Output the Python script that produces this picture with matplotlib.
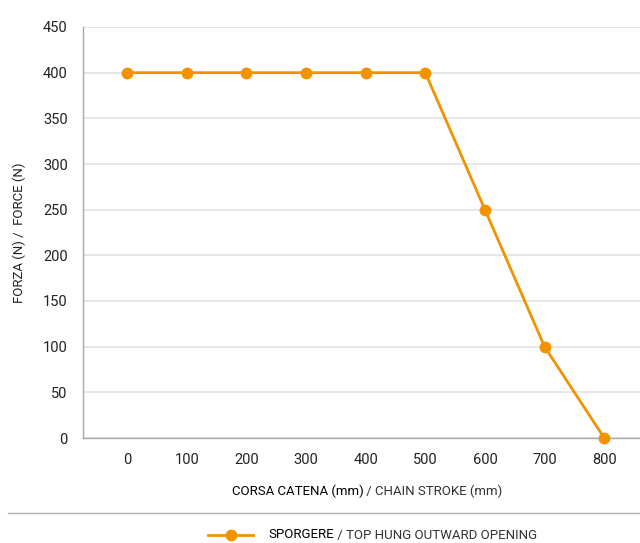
import matplotlib
matplotlib.use('Agg')
import matplotlib.pyplot as plt
from matplotlib.lines import Line2D

plt.rcParams['font.family'] = ['Liberation Sans Narrow', 'Roboto', 'DejaVu Sans']

# data
stroke_mm = [0, 100, 200, 300, 400, 500, 600, 700, 800]
force_n = [400, 400, 400, 400, 400, 400, 250, 100, 0]
y_ticks = [0, 50, 100, 150, 200, 250, 300, 350, 400, 450]

orange = '#F39200'
grid_c = '#E3E3E3'
spine_c = '#A8A8A8'

fig = plt.figure(figsize=(6.4, 5.43), dpi=100)
ax = fig.add_axes([83 / 640, 1 - 438 / 543, 1 - 83 / 640, (438 - 27) / 543])

ax.plot(stroke_mm, force_n, color=orange, lw=2, marker='o', ms=7.5,
        clip_on=False, zorder=3)

ax.set_xlim(-74, 860)
ax.set_ylim(0, 450)
ax.set_xticks(stroke_mm)
ax.set_yticks(y_ticks)
ax.yaxis.grid(True, color=grid_c, lw=1.2)
ax.set_axisbelow(True)
for s in ['top', 'right']:
    ax.spines[s].set_visible(False)
for s in ['left', 'bottom']:
    ax.spines[s].set_color(spine_c)
    ax.spines[s].set_linewidth(1)
ax.tick_params(length=0, labelsize=10.5, colors='#222222')
ax.tick_params(axis='x', pad=11)
ax.tick_params(axis='y', pad=11)

ax.set_ylabel('FORZA (N) /  FORCE (N)', fontsize=9.5, color='#222222', labelpad=12)

# x label with darker first part
fig.canvas.draw()
r = fig.canvas.get_renderer()
xy = 1 - 491 / 543
t1 = fig.text(0, xy, 'CORSA CATENA (mm)', fontsize=9.5, color='#000000', va='center')
t2 = fig.text(0, xy, ' / CHAIN STROKE (mm)', fontsize=9.5, color='#333333', va='center')
w1 = t1.get_window_extent(r).width
w2 = t2.get_window_extent(r).width
x0 = 367 - (w1 + w2) / 2
t1.set_x(x0 / 640)
t2.set_x((x0 + w1) / 640)

# separator line
fig.add_artist(Line2D([8 / 640, 1], [1 - 513 / 543] * 2, color='#B0B0B0', lw=1))

# legend
ly = 1 - 535 / 543
fig.add_artist(Line2D([208 / 640, 253 / 640], [ly, ly], color=orange, lw=2))
fig.add_artist(Line2D([230.5 / 640], [ly], color=orange, marker='o', ms=7.5))
l1 = fig.text(268 / 640, ly, 'SPORGERE', fontsize=9.5, color='#000000', va='center')
w3 = l1.get_window_extent(r).width
fig.text((268 + w3) / 640, ly, ' / TOP HUNG OUTWARD OPENING', fontsize=9.5,
         color='#333333', va='center')

fig.savefig('out.png', dpi=100)
